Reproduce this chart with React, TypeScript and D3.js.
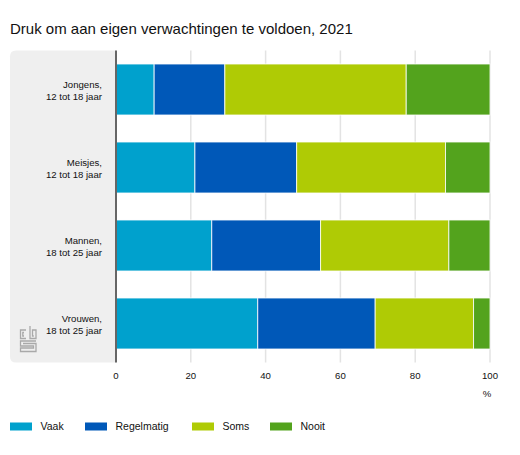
import React from "react";
import * as d3 from "d3";

const categories = [
  ["Jongens,", "12 tot 18 jaar"],
  ["Meisjes,", "12 tot 18 jaar"],
  ["Mannen,", "18 tot 25 jaar"],
  ["Vrouwen,", "18 tot 25 jaar"],
];
const seriesNames = ["Vaak", "Regelmatig", "Soms", "Nooit"];
const seriesColors = ["#00a1cd", "#0058b8", "#afcb05", "#53a31d"];
const vaak = [10.2, 21.1, 25.6, 37.9];
const regelmatig = [18.9, 27.2, 29.1, 31.4];
const soms = [48.5, 39.8, 34.3, 26.3];
const nooit = [22.4, 11.9, 11.0, 4.4];
const xTicks = [0, 20, 40, 60, 80, 100];
const title = "Druk om aan eigen verwachtingen te voldoen, 2021";

const FONT = "'Liberation Sans', Arial, Helvetica, sans-serif";

export default function App() {
  const left = 116, right = 490, top = 50.5, bottom = 362.5;
  const x = d3.scaleLinear().domain([0, 100]).range([left, right]);
  const y = d3
    .scaleBand<number>()
    .domain(d3.range(categories.length))
    .range([top, bottom])
    .paddingInner(0.346)
    .paddingOuter(0.173);

  const rows = categories.map((_, i) => ({
    Vaak: vaak[i],
    Regelmatig: regelmatig[i],
    Soms: soms[i],
    Nooit: nooit[i],
  }));
  const stacked = d3.stack<any>().keys(seriesNames)(rows);

  const legendX = [10, 85, 192, 270];

  const panelPath = (() => {
    const r = 6;
    const x0 = 10, x1 = left, y0 = top, y1 = bottom;
    return `M${x1},${y0} L${x0 + r},${y0} Q${x0},${y0} ${x0},${y0 + r} L${x0},${y1 - r} Q${x0},${y1} ${x0 + r},${y1} L${x1},${y1} Z`;
  })();

  return (
    <svg
      width={520}
      height={455}
      style={{ position: "absolute", left: 0, top: 0, background: "#fff" }}
      fontFamily={FONT}
    >
      <text x={10} y={34} fontSize={15} fill="#111">
        {title}
      </text>

      <path d={panelPath} fill="#efefef" />

      {/* CBS logo */}
      <g fill="none" stroke="#a9a9a9" strokeWidth={1.3}>
        <path d="M26,330 L20.5,330 L20.5,338.5 L26,338.5" />
        <path d="M24,332.5 L22.8,332.5 L22.8,336 L24,336" />
        <path d="M30,326 L30,338.5 L36,338.5 L36,330 L32.5,330 L32.5,336 L33.8,336" />
        <path d="M36,341 L20.5,341 L20.5,346 L33.5,346 L33.5,348 L20.5,348 L20.5,351.5 L36,351.5 L36,343.5 L23,343.5" />
      </g>

      {xTicks.map((t) =>
        t === 0 ? null : (
          <line
            key={t}
            x1={x(t)}
            x2={x(t)}
            y1={top}
            y2={bottom}
            stroke="#e3e3e3"
            strokeWidth={1.5}
          />
        )
      )}

      {stacked.map((s, si) => (
        <g key={seriesNames[si]} fill={seriesColors[si]}>
          {s.map((d, i) => (
            <rect
              key={i}
              x={x(d[0])}
              y={y(i)}
              width={x(d[1]) - x(d[0])}
              height={y.bandwidth()}
              stroke="#ffffff"
              strokeOpacity={0.8}
              strokeWidth={1}
            />
          ))}
        </g>
      ))}

      <line x1={left} x2={left} y1={top} y2={bottom} stroke="#666" strokeWidth={2} />

      {categories.map((lines, i) => {
        const cy = (y(i) as number) + y.bandwidth() / 2;
        return (
          <text key={i} x={102} textAnchor="end" fontSize={9.6} fill="#111">
            <tspan x={102} y={cy - 1.5}>
              {lines[0]}
            </tspan>
            <tspan x={102} y={cy + 10.5}>
              {lines[1]}
            </tspan>
          </text>
        );
      })}

      {xTicks.map((t) => (
        <text key={t} x={x(t)} y={378.5} textAnchor="middle" fontSize={9.6} fill="#111">
          {t}
        </text>
      ))}
      <text x={x(100) - 3} y={396.5} textAnchor="middle" fontSize={9.6} fill="#111">
        %
      </text>

      {seriesNames.map((n, i) => (
        <g key={n}>
          <rect x={legendX[i]} y={422.5} width={22} height={8} fill={seriesColors[i]} />
          <text x={legendX[i] + 30.5} y={429.5} fontSize={10.5} fill="#111">
            {n}
          </text>
        </g>
      ))}
    </svg>
  );
}
